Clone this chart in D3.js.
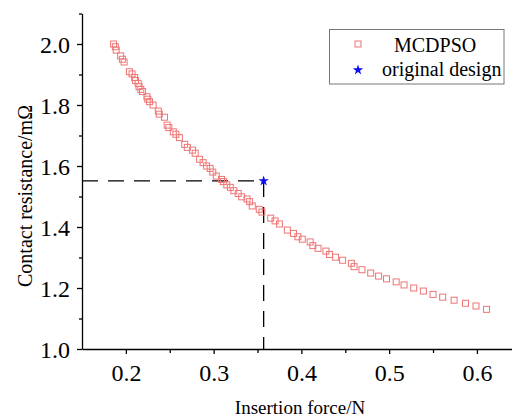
<!DOCTYPE html>
<html>
<head>
<meta charset="utf-8">
<script src="https://cdn.jsdelivr.net/npm/d3@7"></script>
<style>
  html, body { margin: 0; padding: 0; background: #fff; }
  svg { display: block; }
  text { font-family: "Liberation Serif", "Times New Roman", serif; fill: #000; }
</style>
</head>
<body>
<svg id="chart" width="512" height="418"></svg>
<script>
// ---- data ----
const forceMCDPSO = [0.186,0.188,0.189,0.194,0.196,0.198,0.204,0.207,0.210,0.211,0.214,0.215,0.217,0.219,0.224,0.225,0.227,0.231,0.237,0.238,0.244,0.247,0.249,0.254,0.257,0.261,0.267,0.270,0.276,0.279,0.284,0.288,0.292,0.296,0.299,0.303,0.309,0.311,0.315,0.319,0.323,0.328,0.332,0.338,0.341,0.344,0.352,0.355,0.365,0.370,0.375,0.384,0.391,0.396,0.401,0.410,0.413,0.419,0.428,0.432,0.439,0.447,0.457,0.460,0.469,0.479,0.488,0.497,0.508,0.517,0.528,0.539,0.550,0.561,0.574,0.587,0.599,0.611];
const resistanceMCDPSO = [2.000,1.991,1.980,1.961,1.950,1.941,1.909,1.902,1.890,1.880,1.871,1.860,1.851,1.844,1.827,1.819,1.811,1.800,1.780,1.770,1.760,1.734,1.726,1.712,1.704,1.693,1.671,1.661,1.652,1.642,1.622,1.611,1.600,1.592,1.580,1.567,1.556,1.549,1.538,1.530,1.519,1.510,1.499,1.492,1.483,1.469,1.458,1.449,1.429,1.420,1.410,1.390,1.379,1.368,1.360,1.351,1.339,1.330,1.321,1.310,1.301,1.291,1.281,1.270,1.260,1.249,1.239,1.230,1.220,1.210,1.200,1.190,1.179,1.170,1.160,1.150,1.141,1.130];
const originalForce = [0.357];
const originalResistance = [1.551];
const xTicks = [0.2, 0.3, 0.4, 0.5, 0.6];
const xMinorTicks = [0.25, 0.35, 0.45, 0.55];
const yTicks = [1.0, 1.2, 1.4, 1.6, 1.8, 2.0];
const yMinorTicks = [1.1, 1.3, 1.5, 1.7, 1.9, 2.1];
const seriesNames = ["MCDPSO", "original design"];
const xLabel = "Insertion force/N";
const yLabel = "Contact resistance/mΩ";

// ---- layout ----
const svg = d3.select("#chart");
const x = d3.scaleLinear().domain([0.15, 0.64]).range([82, 512]);
const y = d3.scaleLinear().domain([1.0, 2.1]).range([349, 13.5]);
const red = "#ef7474";
const blue = "#1010ee";
const serif = "Liberation Serif, Times New Roman, serif";

// minor ticks
svg.append("g")
  .attr("transform", `translate(0,${y(1.0)})`)
  .call(d3.axisBottom(x).tickValues(xMinorTicks).tickSize(4).tickFormat(""))
  .call(g => g.select(".domain").remove())
  .call(g => g.selectAll("line").attr("stroke", "#000").attr("stroke-width", 1.3));
svg.append("g")
  .attr("transform", `translate(${x(0.15)},0)`)
  .call(d3.axisLeft(y).tickValues(yMinorTicks).tickSize(3).tickFormat(""))
  .call(g => g.select(".domain").remove())
  .call(g => g.selectAll("line").attr("stroke", "#000").attr("stroke-width", 1.3));

// major axes
const xAxis = svg.append("g")
  .attr("transform", `translate(0,${y(1.0)})`)
  .call(d3.axisBottom(x).tickValues(xTicks).tickSize(5).tickSizeOuter(0).tickFormat(d3.format(".1f")))
  .attr("font-family", serif).attr("font-size", 24);
xAxis.select(".domain").attr("stroke", "#000").attr("stroke-width", 1.3);
xAxis.selectAll("line").attr("stroke", "#000").attr("stroke-width", 1.3);
xAxis.selectAll("text")
  .attr("y", 32).attr("dy", null)
  .attr("font-family", serif).attr("font-size", 24).attr("fill", "#000");

const yAxis = svg.append("g")
  .attr("transform", `translate(${x(0.15)},0)`)
  .call(d3.axisLeft(y).tickValues(yTicks).tickSize(5).tickSizeOuter(0).tickFormat(d3.format(".1f")))
  .attr("font-family", serif).attr("font-size", 24);
yAxis.select(".domain").attr("stroke", "#000").attr("stroke-width", 1.3);
yAxis.selectAll("line").attr("stroke", "#000").attr("stroke-width", 1.3);
yAxis.selectAll("text")
  .attr("x", -12).attr("dy", "0.36em")
  .attr("font-family", serif).attr("font-size", 24).attr("fill", "#000");

// axis labels
svg.append("text")
  .attr("x", 300).attr("y", 414)
  .attr("text-anchor", "middle")
  .attr("font-size", 19)
  .text(xLabel);
svg.append("text")
  .attr("transform", `translate(25,196) rotate(-90)`)
  .attr("text-anchor", "middle")
  .attr("dy", "0.35em")
  .attr("font-size", 20)
  .text(yLabel);

// dashed guide lines to original design
svg.append("line")
  .attr("x1", x(0.15)).attr("x2", x(originalForce[0]))
  .attr("y1", y(originalResistance[0])).attr("y2", y(originalResistance[0]))
  .attr("stroke", "#000").attr("stroke-width", 1.3).attr("stroke-dasharray", "16,10");
svg.append("line")
  .attr("x1", x(originalForce[0])).attr("x2", x(originalForce[0]))
  .attr("y1", y(originalResistance[0])).attr("y2", y(1.0))
  .attr("stroke", "#000").attr("stroke-width", 1.3).attr("stroke-dasharray", "16,10");

// MCDPSO squares
const sq = 6;
svg.append("g").selectAll("rect")
  .data(d3.zip(forceMCDPSO, resistanceMCDPSO))
  .join("rect")
  .attr("x", d => x(d[0]) - sq / 2)
  .attr("y", d => y(d[1]) - sq / 2)
  .attr("width", sq).attr("height", sq)
  .attr("fill", "none").attr("stroke", red).attr("stroke-width", 1);

// original design star
const star = d3.symbol().type(d3.symbolStar).size(34);
svg.append("g").selectAll("path")
  .data(d3.zip(originalForce, originalResistance))
  .join("path")
  .attr("d", star)
  .attr("transform", d => `translate(${x(d[0])},${y(d[1])})`)
  .attr("fill", blue);

// legend
const lg = svg.append("g");
lg.append("rect")
  .attr("x", 329.5).attr("y", 29.5).attr("width", 174.5).attr("height", 54.5)
  .attr("fill", "#fff").attr("stroke", "#777").attr("stroke-width", 1);
lg.append("rect")
  .attr("x", 358 - sq / 2).attr("y", 44 - sq / 2).attr("width", sq).attr("height", sq)
  .attr("fill", "none").attr("stroke", red).attr("stroke-width", 1);
lg.append("path").attr("d", star).attr("transform", "translate(358,70)").attr("fill", blue);
lg.append("text").attr("x", 394).attr("y", 52).attr("font-size", 20).text(seriesNames[0]);
lg.append("text").attr("x", 382).attr("y", 76).attr("font-size", 20).text(seriesNames[1]);
</script>
</body>
</html>
